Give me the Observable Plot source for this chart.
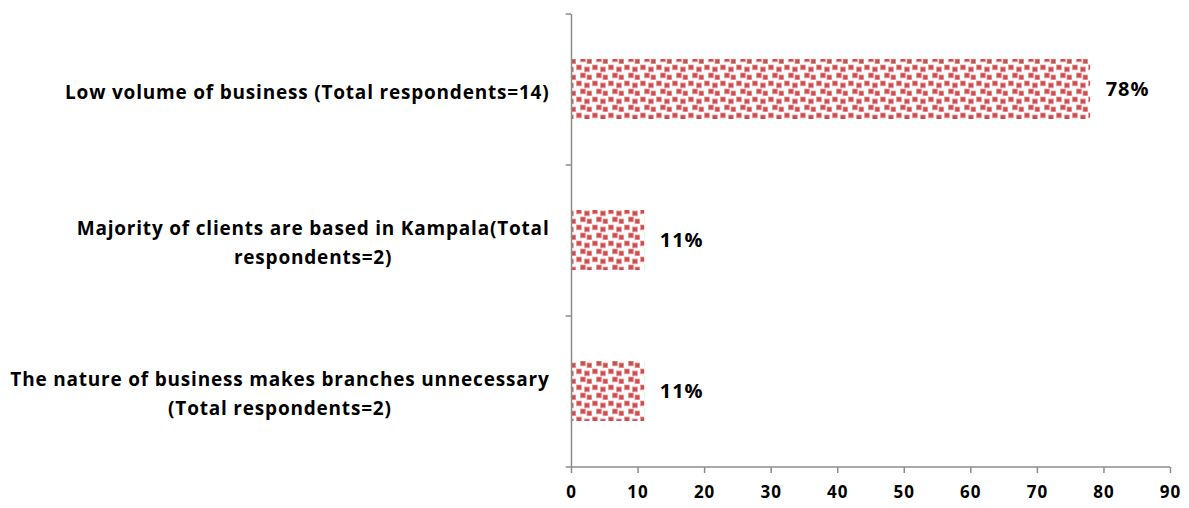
<!DOCTYPE html>
<html>
<head>
<meta charset="utf-8">
<script src="https://cdn.jsdelivr.net/npm/d3@7"></script>
<script src="https://cdn.jsdelivr.net/npm/@observablehq/plot@0.6"></script>
<style>
  html, body { margin: 0; padding: 0; background: #fff; }
  #chart svg { font-family: "Open Sans", sans-serif; }
</style>
</head>
<body>
<div id="chart"></div>
<script>
const categories = [
  "Low volume of business (Total respondents=14)",
  "Majority of clients are based in Kampala(Total\nrespondents=2)",
  "The nature of business makes branches unnecessary\n(Total respondents=2)"
];
const values = [78, 11, 11];
const valueLabels = ["78%", "11%", "11%"];
const xTicks = [0, 10, 20, 30, 40, 50, 60, 70, 80, 90];

const data = categories.map((c, i) => ({category: c, value: values[i], label: valueLabels[i]}));
const axisColor = "#8c8c8c";

const chart = Plot.plot({
  width: 1189,
  height: 508,
  marginLeft: 571,
  marginRight: 19,
  marginTop: 14,
  marginBottom: 41,
  style: {fontFamily: "'Open Sans', sans-serif", fontWeight: "bold", color: "#000", background: "#fff"},
  x: {domain: [0, 90], axis: null, label: null},
  y: {domain: categories, paddingInner: 0.6, paddingOuter: 0.3, axis: null, label: null},
  marks: [
    Plot.barX(data, {y: "category", x: "value", fill: "url(#redDots)"}),
    Plot.text(data, {y: "category", x: "value", text: "label", textAnchor: "start", dx: 15, fontSize: 20, fontWeight: "bold", fill: "#000", style: "letter-spacing:1px"}),
    Plot.ruleX([0], {stroke: axisColor, strokeWidth: 1.5}),
    Plot.ruleY(categories, {y: d => d, x1: -0.8, x2: 0, stroke: axisColor, strokeWidth: 1.5, dy: -75.5}),
    Plot.ruleY([categories[categories.length - 1]], {y: d => d, x1: -0.8, x2: 90, stroke: axisColor, strokeWidth: 1.5, dy: 75.5}),
    Plot.axisX({ticks: xTicks, tickSize: 6, tickPadding: 12, stroke: axisColor, strokeWidth: 1.5, fontSize: 17, fontWeight: "bold", fill: "#000", label: null}),
    Plot.axisY({tickSize: 0, tickPadding: 22, fontSize: 19, fontWeight: "bold", fill: "#000", lineHeight: 1.5, textAnchor: "end", label: null})
  ]
});

document.getElementById("chart").appendChild(chart);

const svg = d3.select(chart);
svg.selectAll('g[aria-label="text"] text').style("letter-spacing", "1px");
svg.selectAll('g[aria-label="x-axis tick label"] text').style("letter-spacing", "1px");

// pattern definition
const defs = svg.insert("defs", ":first-child");
const pat = defs.append("pattern")
  .attr("id", "redDots")
  .attr("patternUnits", "userSpaceOnUse")
  .attr("width", 16).attr("height", 16);
pat.append("rect").attr("width", 16).attr("height", 16).attr("fill", "#fff");
[[0.5,1],[8.5,3],[4.5,9],[11,11]].forEach(([x, y]) => {
  pat.append("rect").attr("x", x).attr("y", y).attr("width", 4.8).attr("height", 4.8)
    .attr("fill", "#cd4d4d").attr("stroke", "#e49a9a").attr("stroke-width", 0.8);
});

// letter spacing for category labels, then center multi-line labels as a block
svg.selectAll('g[aria-label="y-axis tick label"] text').each(function() {
  this.style.letterSpacing = "0.8px";
  const bb = this.getBBox();
  const t = this.getAttribute("transform") || "";
  this.setAttribute("text-anchor", "middle");
  this.style.textAnchor = "middle";
  this.setAttribute("transform", t + ` translate(${-bb.width / 2},0)`);
});
</script>
</body>
</html>
